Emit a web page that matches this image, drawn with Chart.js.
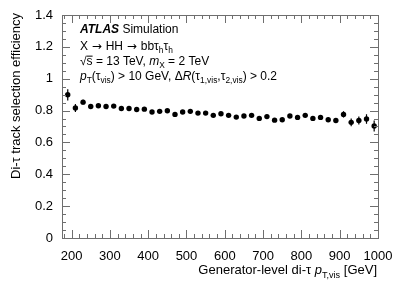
<!DOCTYPE html>
<html>
<head>
<meta charset="utf-8">
<script src="https://cdn.jsdelivr.net/npm/chart.js@4"></script>
<style>
  html, body { margin: 0; padding: 0; background: #fff; }
  #wrap { width: 399px; height: 286px; }
</style>
</head>
<body>
<div id="wrap"><canvas id="chart"></canvas></div>
<script>
// bin centres (GeV)
const ptBins = [190, 210, 230, 250, 270, 290, 310, 330, 350, 370,
  390, 410, 430, 450, 470, 490, 510, 530, 550, 570,
  590, 610, 630, 650, 670, 690, 710, 730, 750, 770,
  790, 810, 830, 850, 870, 890, 910, 930, 950, 970, 990];
const efficiency = [0.899, 0.816, 0.853, 0.826, 0.830, 0.826, 0.828, 0.813, 0.813, 0.807,
  0.809, 0.791, 0.795, 0.799, 0.776, 0.791, 0.795, 0.784, 0.784, 0.770,
  0.780, 0.770, 0.759, 0.766, 0.770, 0.751, 0.762, 0.740, 0.742, 0.766,
  0.757, 0.770, 0.751, 0.757, 0.742, 0.738, 0.776, 0.726, 0.738, 0.747, 0.703];
const efficiencyErr = [0.035, 0.025, 0.015, 0.010, 0.010, 0.010, 0.010, 0.010, 0.010, 0.010,
  0.010, 0.010, 0.010, 0.010, 0.010, 0.010, 0.010, 0.010, 0.010, 0.010,
  0.010, 0.010, 0.010, 0.010, 0.010, 0.010, 0.012, 0.012, 0.012, 0.012,
  0.012, 0.012, 0.012, 0.012, 0.014, 0.014, 0.020, 0.025, 0.025, 0.030, 0.035];
const xTicks = [200, 300, 400, 500, 600, 700, 800, 900, 1000];
const yTicks = [0, 0.2, 0.4, 0.6, 0.8, 1, 1.2, 1.4];

const FONT = "'Liberation Sans', Arial, Helvetica, sans-serif";

// draw a line of text made of segments (normal / italic / bold italic, subscripts)
function richText(ctx, segs, x, y, size, align) {
  const fontFor = (s) => {
    const sz = s.sub ? size * 0.7 : size;
    return (s.style || "") + " " + sz + "px " + (s.family || FONT);
  };
  let w = 0;
  segs.forEach((s) => { ctx.font = fontFor(s); w += ctx.measureText(s.t).width; });
  let cx = align === "right" ? x - w : x;
  ctx.textAlign = "left";
  ctx.textBaseline = "alphabetic";
  segs.forEach((s) => {
    ctx.font = fontFor(s);
    const sw = ctx.measureText(s.t).width;
    ctx.fillText(s.t, cx, y + (s.sub ? size * 0.28 : 0));
    if (s.over) {
      ctx.fillRect(cx, y - size * 0.78, sw, 1);
    }
    cx += sw;
  });
}

const atlasPlugin = {
  id: "atlas",
  beforeDatasetsDraw(chart) {
    const { ctx } = chart;
    const xs = chart.scales.x, ys = chart.scales.y;
    ctx.save();
    ctx.strokeStyle = "#000";
    ctx.lineWidth = 1.2;
    ptBins.forEach((p, i) => {
      const px = xs.getPixelForValue(p);
      ctx.beginPath();
      ctx.moveTo(px, ys.getPixelForValue(efficiency[i] - efficiencyErr[i]));
      ctx.lineTo(px, ys.getPixelForValue(efficiency[i] + efficiencyErr[i]));
      ctx.stroke();
    });
    ctx.restore();
  },
  afterDraw(chart) {
    const { ctx, chartArea: a } = chart;
    const xs = chart.scales.x, ys = chart.scales.y;
    ctx.save();
    // frame
    ctx.strokeStyle = "#6e6e6e";
    ctx.lineWidth = 1;
    ctx.strokeRect(Math.round(a.left) + 0.5, Math.round(a.top) + 0.5,
      Math.round(a.right - a.left), Math.round(a.bottom - a.top));
    // ticks on all four sides, pointing inwards
    ctx.beginPath();
    for (let v = 180; v <= 1000; v += 20) {
      const px = Math.round(xs.getPixelForValue(v)) + 0.5;
      const len = v % 100 === 0 ? 8 : 4;
      ctx.moveTo(px, a.bottom); ctx.lineTo(px, a.bottom - len);
      ctx.moveTo(px, a.top); ctx.lineTo(px, a.top + len);
    }
    for (let k = 0; k <= 28; k++) {
      const v = k * 0.05;
      const py = Math.round(ys.getPixelForValue(v)) + 0.5;
      const len = k % 4 === 0 ? 8 : 4;
      ctx.moveTo(a.left, py); ctx.lineTo(a.left + len, py);
      ctx.moveTo(a.right, py); ctx.lineTo(a.right - len, py);
    }
    ctx.stroke();

    ctx.fillStyle = "#000";
    // axis titles
    richText(ctx, [
      { t: "Generator-level di-\u03c4 " },
      { t: "p", style: "italic" },
      { t: "T,vis", sub: true },
      { t: " [GeV]" }
    ], 377, 274, 13, "right");

    ctx.save();
    ctx.translate(20, a.top - 2);
    ctx.rotate(-Math.PI / 2);
    richText(ctx, [{ t: "Di-\u03c4 track selection efficiency" }], 0, 0, 13, "right");
    ctx.restore();

    // labels
    const lx = 80;
    const arrow = { t: " \u2192 ", family: "'DejaVu Sans', sans-serif" };
    richText(ctx, [
      { t: "ATLAS", style: "italic bold" },
      { t: " Simulation" }
    ], lx, 33, 12);
    richText(ctx, [
      { t: "X" }, arrow, { t: "HH" }, arrow, { t: "bb\u03c4" },
      { t: "h", sub: true },
      { t: "\u03c4" },
      { t: "h", sub: true }
    ], lx, 50, 12);
    richText(ctx, [
      { t: "\u221a" },
      { t: "s", over: true },
      { t: " = 13 TeV, " },
      { t: "m", style: "italic" },
      { t: "X", sub: true },
      { t: " = 2 TeV" }
    ], lx, 65, 12);
    richText(ctx, [
      { t: "p", style: "italic" },
      { t: "T", sub: true },
      { t: "(\u03c4" },
      { t: "vis", sub: true },
      { t: ") > 10 GeV, \u0394" },
      { t: "R", style: "italic" },
      { t: "(\u03c4" },
      { t: "1,vis", sub: true },
      { t: ",\u03c4" },
      { t: "2,vis", sub: true },
      { t: ") > 0.2" }
    ], lx, 80, 12);
    ctx.restore();
  }
};

new Chart(document.getElementById("chart"), {
  type: "scatter",
  data: {
    datasets: [{
      data: ptBins.map((p, i) => ({ x: p, y: efficiency[i] })),
      pointRadius: 2.7,
      pointBackgroundColor: "#000",
      pointBorderColor: "#000",
      pointBorderWidth: 0,
      showLine: false
    }]
  },
  options: {
    responsive: true,
    maintainAspectRatio: false,
    animation: false,
    layout: { padding: { top: 15, right: 21, left: 0, bottom: 0 } },
    plugins: { legend: { display: false }, tooltip: { enabled: false } },
    scales: {
      x: {
        type: "linear",
        min: 175,
        max: 1000,
        grid: { display: false },
        border: { display: false },
        ticks: {
          color: "#000",
          padding: 3,
          maxRotation: 0,
          font: { family: FONT, size: 13 },
          callback: (v) => String(v)
        },
        afterBuildTicks: (s) => { s.ticks = xTicks.map((v) => ({ value: v })); },
        afterFit: (s) => { s.height = 48; }
      },
      y: {
        min: 0,
        max: 1.4,
        grid: { display: false },
        border: { display: false },
        ticks: {
          color: "#000",
          padding: 1,
          font: { family: FONT, size: 13 },
          callback: (v) => String(+v.toFixed(2))
        },
        afterBuildTicks: (s) => { s.ticks = yTicks.map((v) => ({ value: v })); },
        afterFit: (s) => { s.width = 62; }
      }
    }
  },
  plugins: [atlasPlugin]
});
</script>
</body>
</html>
